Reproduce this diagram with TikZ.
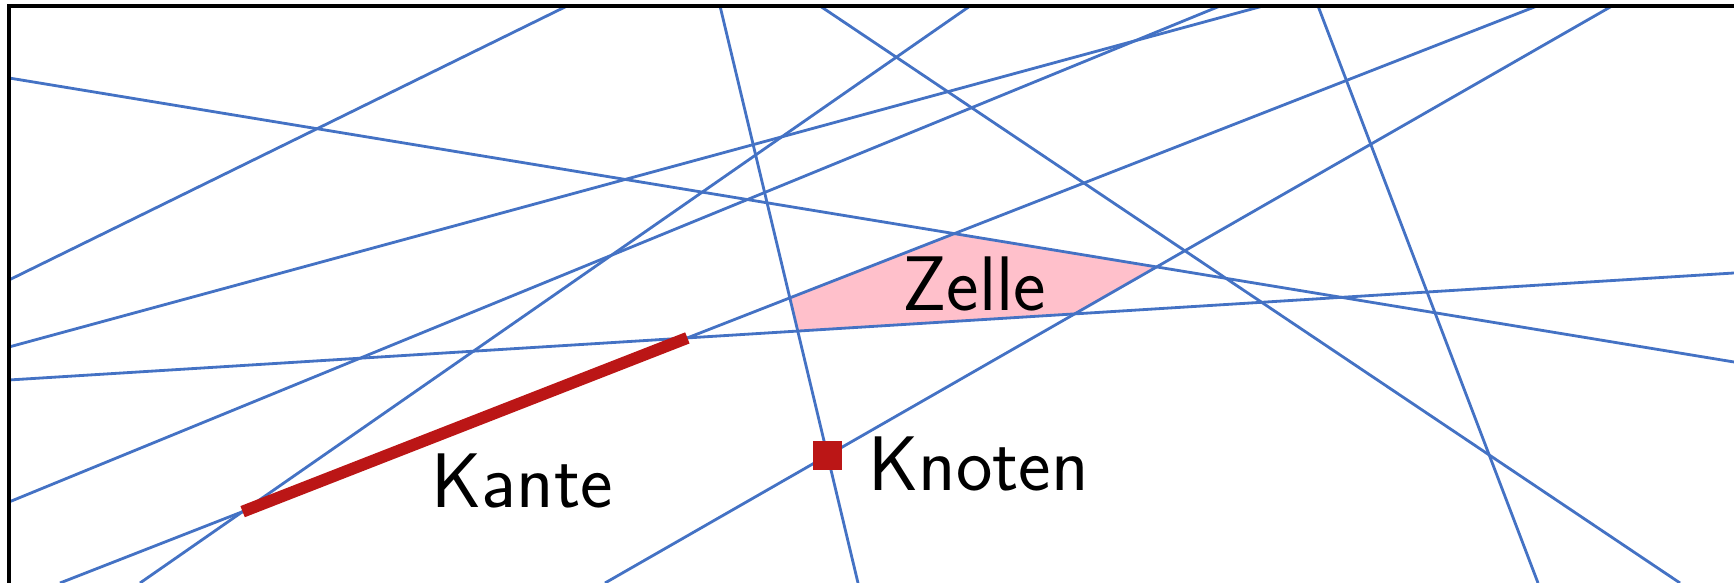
\documentclass[tikz,border=0pt]{standalone}
\usepackage{fontspec}
\usetikzlibrary{positioning}

\definecolor{lineblue}{RGB}{68,114,196}
\definecolor{edgered}{RGB}{187,22,22}
\definecolor{cellpink}{RGB}{255,192,203}

\begin{document}
\begin{tikzpicture}[x=0.01cm, y=-0.01cm,
                    every node/.style={font=\sffamily\fontsize{22}{26}\selectfont},
                    gerade/.style={draw=lineblue, line width=0.8pt},
                    kante/.style={draw=edgered, line width=3.4pt},
                    knoten/.style={rectangle, fill=edgered, minimum size=0.29cm, inner sep=0pt},
                    rahmen/.style={draw=black, line width=1.1pt}]

\useasboundingbox (0,0) rectangle (1734,583);

% Lines (start and end on the frame)
\coordinate (g1s) at (9,78);     \coordinate (g1e) at (1734,362);
\coordinate (g2s) at (9,280);    \coordinate (g2e) at (567,6);
\coordinate (g3s) at (9,347);    \coordinate (g3e) at (1263,6);
\coordinate (g4s) at (9,502);    \coordinate (g4e) at (1220,6);
\coordinate (g5s) at (9,380);    \coordinate (g5e) at (1734,273);
\coordinate (g6s) at (140,583);  \coordinate (g6e) at (970,6);
\coordinate (g7s) at (720,6);    \coordinate (g7e) at (858,583);
\coordinate (g8s) at (820,6);    \coordinate (g8e) at (1680,583);
\coordinate (g9s) at (605,583);  \coordinate (g9e) at (1612,6);
\coordinate (g10s) at (1318,6);  \coordinate (g10e) at (1538,583);
\coordinate (g11s) at (60,583);  \coordinate (g11e) at (1537,6);

% Cell
\fill[cellpink] (intersection of g7s--g7e and g11s--g11e)
             -- (intersection of g11s--g11e and g1s--g1e)
             -- (intersection of g1s--g1e and g9s--g9e)
             -- (intersection of g9s--g9e and g5s--g5e)
             -- (intersection of g5s--g5e and g7s--g7e) -- cycle;

\foreach \i in {1,...,11}
  \draw[gerade] (g\i s) -- (g\i e);

% Edge
\coordinate (kante1) at (intersection of g6s--g6e and g11s--g11e);
\coordinate (kante2) at (intersection of g11s--g11e and g5s--g5e);
\draw[kante] (kante1) -- (kante2);

% Frame
\draw[rahmen] (1734,6) -- (9,6) -- (9,583);

% Nodes
\node (knoten) [knoten] at (intersection of g7s--g7e and g9s--g9e) {};
\node (knotenlabel) [right=0.13cm of knoten, yshift=-0.08cm] {Knoten};
\node (kantelabel) at (522,481) {Kante};
\node (zellelabel) at (974,284) {Zelle};

\end{tikzpicture}
\end{document}
